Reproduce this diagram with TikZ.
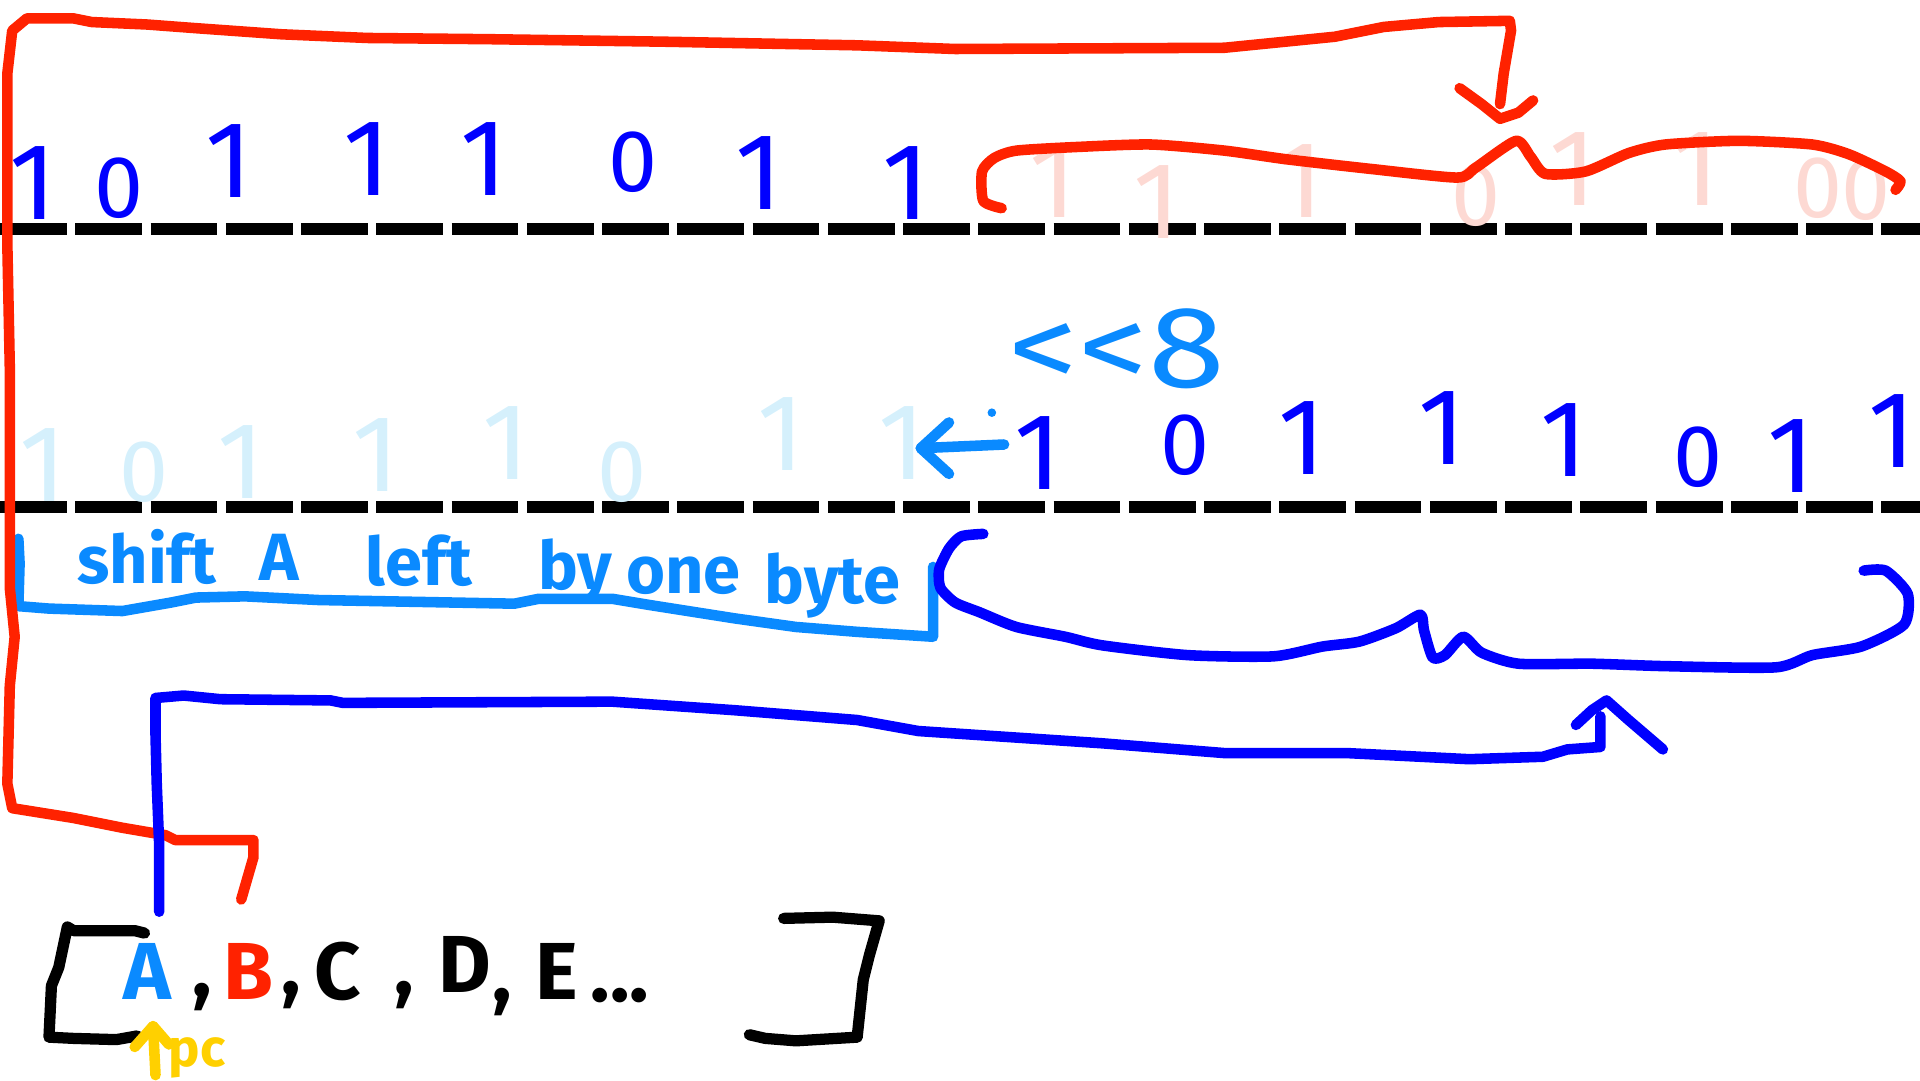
\documentclass[tikz,border=0pt]{standalone}
\usepackage{fontspec}
\setmainfont{Fira Sans}
\definecolor{redc}{HTML}{FF2200}
\definecolor{bluec}{HTML}{0000FF}
\definecolor{lbc}{HTML}{0A8AFF}
\definecolor{pinkc}{HTML}{FDD9D3}
\definecolor{fbluec}{HTML}{D5F0FC}
\definecolor{yellowc}{HTML}{FFD000}
\tikzset{
  rule/.style={draw=black, line width=3.3pt, dash pattern=on 19pt off 2.4pt},
  penline/.style={line width=3pt, line cap=round, line join=round},
  redline/.style={penline, draw=redc},
  blueline/.style={penline, draw=bluec},
  lbline/.style={penline, draw=lbc},
  blkline/.style={penline, draw=black, line width=3.2pt},
  one/.style={inner sep=0pt, anchor=south, text height=0.7em, text depth=0pt, font=\fontsize{31}{31}\selectfont},
  zero/.style={inner sep=0pt, anchor=south, text height=0.7em, text depth=0pt, font=\fontsize{25}{25}\selectfont},
  arr/.style={inner sep=0pt, font=\bfseries\fontsize{23}{23}\selectfont},
  note/.style={inner sep=0pt, text=lbc, font=\bfseries\fontsize{19}{19}\selectfont},
}
\begin{document}
\begin{tikzpicture}[x=0.012245cm, y=-0.012245cm]
\useasboundingbox (0,0) rectangle (1568,882);

% dashed rules
\draw[rule] (0,187) -- (1568,187);
\draw[rule] (0,414) -- (1568,414);

% top row bits (blue)
\begin{scope}[text=bluec]
\node[one]  (t1) at (27,180) {1};
\node[zero] (t2) at (97,178) {0};
\node[one]  (t3) at (187,162) {1};
\node[one]  (t4) at (300,160) {1};
\node[one]  (t5) at (395,160) {1};
\node[zero] (t6) at (517,157) {0};
\node[one]  (t7) at (620,172) {1};
\node[one]  (t8) at (740,180) {1};
\end{scope}
% top row faded bits (pink)
\begin{scope}[text=pinkc]
\node[one]  (p1) at (860,178) {1};
\node[one]  (p2) at (945,195) {1};
\node[one]  (p3) at (1062,178) {1};
\node[zero] (p4) at (1205,185) {0};
\node[one]  (p5) at (1285,168) {1};
\node[one]  (p6) at (1385,168) {1};
\node[zero] (p7) at (1485,178) {0};
\node[zero] (p8) at (1524,180) {0};
\end{scope}

% middle row faded bits (light blue)
\begin{scope}[text=fbluec]
\node[one]  (m1) at (35,410) {1};
\node[zero] (m2) at (118,410) {0};
\node[one]  (m3) at (197,408) {1};
\node[one]  (m4) at (307,402) {1};
\node[one]  (m5) at (413,392) {1};
\node[zero] (m6) at (508,410) {0};
\node[one]  (m7) at (638,385) {1};
\node[one]  (m8) at (737,392) {1};
\end{scope}
% middle row bits (blue)
\begin{scope}[text=bluec]
\node[one]  (b1) at (848,400) {1};
\node[zero] (b2) at (968,388) {0};
\node[one]  (b3) at (1063,388) {1};
\node[one]  (b4) at (1178,380) {1};
\node[one]  (b5) at (1277,390) {1};
\node[zero] (b6) at (1387,398) {0};
\node[one]  (b7) at (1463,403) {1};
\node[one]  (b8) at (1545,382) {1};
\end{scope}

% shift label
\node[inner sep=0pt, text=lbc, text height=0.7em, text depth=0pt, font=\fontsize{33}{33}\selectfont, xscale=1.2] (shl) at (912,306) {{<}{<}8};
\node[inner sep=0pt] (dst) at (752,366) {};
\coordinate (src) at (820,363);
\draw[lbline] (src) -- (dst.center);
\draw[lbline] (775,345) -- (dst.center) -- (775,387);
\fill[lbc] (810,337) circle (3.5);

% note text
\node[note] (w1) at (120,455) {shift};
\node[note] (w2) at (228,455) {A};
\node[note] (w3) at (342,458) {left};
\node[note] (w4) at (470,467) {by};
\node[note] (w5) at (558,470) {one};
\node[note] (w6) at (680,478) {byte};
\draw[lbline] (15,440) -- (16,460) -- (15,495) -- (40,497) -- (100,499) -- (140,492) -- (160,488) -- (200,487) -- (260,490) -- (420,493) -- (440,489) -- (500,489) -- (530,494) -- (600,505) -- (650,512) -- (700,516) -- (762,520) -- (762,463);

% array at bottom
\node[arr, text=lbc] (A) at (120,793) {A};
\node[arr, text=redc] (B) at (203,793) {B};
\node[arr, anchor=base] (c1) at (165,814) {,};
\node[arr, anchor=base] (c2) at (238,812) {,};
\node[arr] (C) at (276,793) {C};
\node[arr, anchor=base] (c3) at (330,812) {,};
\node[arr] (D) at (380,788) {D};
\node[arr, anchor=base] (c4) at (410,818) {,};
\node[arr] (E) at (455,793) {E};
\node[arr, anchor=base west] (dots) at (482,818) {...};
\draw[blkline] (118,762) -- (110,760) -- (60,760) -- (55,757) -- (48,790) -- (42,805) -- (40,847) -- (60,848) -- (95,849) -- (112,846);
\draw[blkline] (640,750) -- (680,749) -- (718,752) -- (710,780) -- (705,800) -- (700,847) -- (650,850) -- (625,848) -- (612,845);

% pc marker
\node[inner sep=0pt, text=yellowc, font=\bfseries\fontsize{15}{15}\selectfont] (pc) at (161,864) {pc};
\coordinate (pcbase) at (127,878);
\coordinate (pctip) at (125,838);
\draw[penline, draw=yellowc] (pcbase) -- (pctip);
\draw[penline, draw=yellowc] (110,855) -- (pctip) -- (138,853);

% red connector from B to top
\coordinate (rtip) at (1225,97);
\draw[redline] (B.north) ++(-6,-35) -- (207,700) -- (207,686) -- (143,686) -- (135,682) -- (100,676) -- (60,668) -- (10,660) -- (6,640) -- (8,560) -- (12,520) -- (8,480) -- (8,400) -- (8,300) -- (6,200) -- (6,60) -- (10,25) -- (22,15) -- (60,15) -- (75,18) -- (120,20) -- (160,23) -- (230,28) -- (300,31) -- (400,32) -- (540,34) -- (700,37) -- (780,40) -- (1000,39) -- (1090,30) -- (1130,22) -- (1175,18) -- (1233,17) -- (1234,25) -- (1228,60) -- (1225,85);
\draw[redline] (1192,72) -- (1210,85) -- (rtip) -- (1240,92) -- (1252,82);
% red brace over faded bits
\draw[redline] plot[smooth, tension=0.4] coordinates {(818,170) (803,164) (802,140) (812,129) (830,123) (880,120) (940,118) (1000,123) (1050,130) (1120,138) (1190,145) (1205,137) (1238,115) (1250,128) (1262,142) (1295,140) (1330,125) (1360,118) (1420,115) (1480,118) (1510,126) (1540,140) (1552,148) (1548,155)};

% blue connector from A to bottom brace
\coordinate (btip) at (1312,572);
\draw[blueline] (A.north) ++(10,-25) -- (130,690) -- (128,640) -- (127,600) -- (127,570) -- (150,568) -- (180,571) -- (270,572) -- (280,574) -- (500,573) -- (600,580) -- (700,588) -- (750,597) -- (900,607) -- (1000,615) -- (1100,615) -- (1200,620) -- (1260,618) -- (1280,612) -- (1307,610) -- (1307,585);
\draw[blueline] (1287,592) -- (1300,580) -- (btip) -- (1330,588) -- (1358,612);
% blue brace under bits
\draw[blueline] plot[smooth, tension=0.4] coordinates {(803,436) (785,438) (775,448) (767,465) (768,480) (780,492) (800,500) (830,512) (870,520) (900,527) (970,535) (1040,536) (1080,528) (1110,524) (1140,513) (1160,502) (1163,515) (1170,537) (1180,535) (1195,520) (1210,533) (1240,542) (1300,542) (1360,544) (1450,545) (1480,535) (1520,528) (1555,510) (1558,485) (1540,466) (1522,466)};
\end{tikzpicture}
\end{document}
